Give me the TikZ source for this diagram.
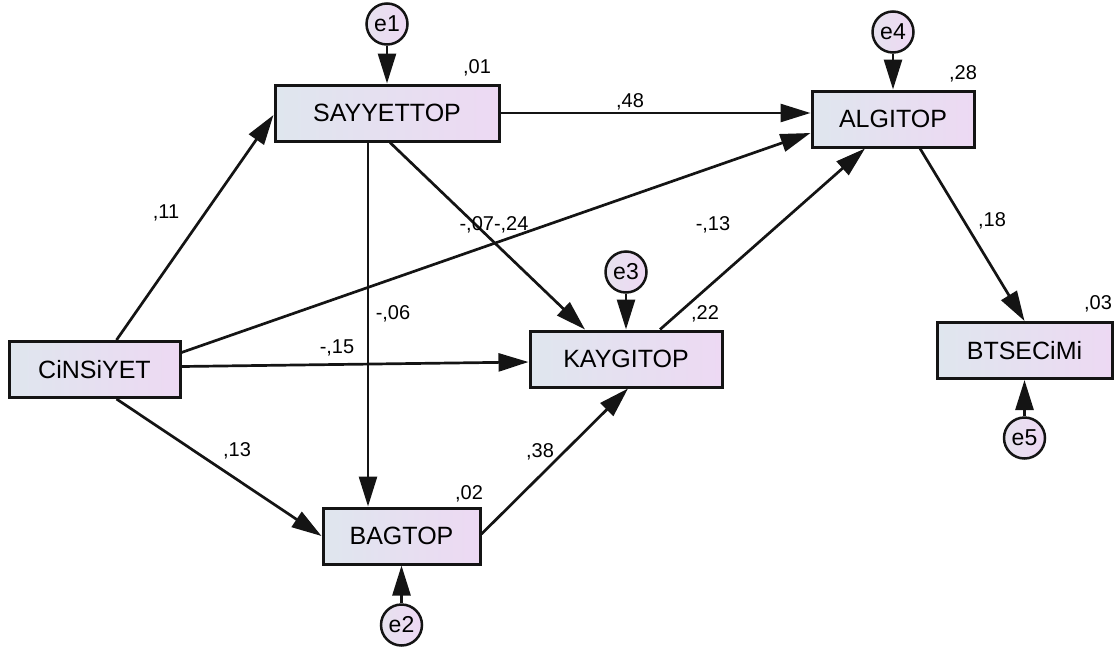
\documentclass[tikz,border=0pt]{standalone}
\usepackage{fontspec}
\setmainfont{Liberation Sans}
\usetikzlibrary{arrows.meta,calc}
\definecolor{boxL}{HTML}{DFE6EE}
\definecolor{boxR}{HTML}{EDD9F3}
\definecolor{circL}{HTML}{E6E2EE}
\definecolor{circR}{HTML}{EED8F4}
\definecolor{ink}{HTML}{141414}
\begin{document}
\begin{tikzpicture}[x=1pt,y=-1pt,
  var/.style={draw=ink, line width=3pt, left color=boxL, right color=boxR,
    minimum height=56pt, inner sep=0pt, font=\fontsize{25}{25}\selectfont},
  err/.style={circle, draw=ink, line width=2.5pt, left color=circL, right color=circR,
    minimum size=41pt, inner sep=0pt, font=\fontsize{23}{23}\selectfont},
  arr/.style={draw=ink, line width=2.7pt, -{Triangle[length=30pt,width=18pt]}},
  lab/.style={font=\fontsize{20}{20}\selectfont, inner sep=0pt}]
\path[use as bounding box] (0,0) rectangle (1118,653);

% observed variables
\node[var, minimum width=224pt] (say) at (387,113) {SAYYETTOP};
\node[var, minimum width=162pt] (alg) at (893,119) {ALGITOP};
\node[var, minimum width=171pt] (cin) at (94.5,369.5) {CiNSiYET};
\node[var, minimum width=192pt] (kay) at (626,359) {KAYGITOP};
\node[var, minimum width=175pt] (bts) at (1024.5,350.5) {BTSECiMi};
\node[var, minimum width=157pt] (bag) at (401.5,536) {BAGTOP};

% error terms
\node[err] (e1) at (387,24) {e1};
\node[err] (e4) at (893,32) {e4};
\node[err] (e3) at (626,272) {e3};
\node[err] (e2) at (401.5,625) {e2};
\node[err] (e5) at (1024.5,438) {e5};

% structural paths
\draw[arr] ($(cin.north)+(22,0)$) -- ($(say.west)+(0,2)$);
\draw[arr] ($(cin.east)+(0,-17)$) -- ($(alg.west)+(0,14)$);
\draw[arr] ($(cin.east)+(0,-3)$) -- ($(kay.west)+(0,3)$);
\draw[arr] ($(cin.south)+(22,0)$) -- (bag.west);
\draw[arr] (say.east) -- ($(alg.west)+(0,-6)$);
\draw[arr] ($(say.south)+(-19,0)$) -- ($(bag.north)+(-33.5,0)$);
\draw[arr] ($(say.south)+(3,0)$) -- ($(kay.north)+(-41,0)$);
\draw[arr] ($(kay.north)+(34,0)$) -- ($(alg.south)+(-28,0)$);
\draw[arr] ($(bag.east)+(0,-2)$) -- ($(kay.south)+(2,0)$);
\draw[arr] ($(alg.south)+(27,0)$) -- (bts.north);

% error paths
\draw[arr] (e1) -- (say.north);
\draw[arr] (e4) -- (alg.north);
\draw[arr] (e3) -- (kay.north);
\draw[arr] (e2) -- (bag.south);
\draw[arr] (e5) -- (bts.south);

% squared multiple correlations
\node[lab] (r1) at (477,68) {,01};
\node[lab] (r4) at (963,74) {,28};
\node[lab] (r3) at (705,314) {,22};
\node[lab] (r5) at (1098,304) {,03};
\node[lab] (r2) at (469,494) {,02};

% path coefficients
\node[lab] (c1) at (630,102) {,48};
\node[lab] (c2) at (166,213) {,11};
\node[lab] (c3) at (494,225) {-,07-,24};
\node[lab] (c4) at (713,225) {-,13};
\node[lab] (c5) at (992,221) {,18};
\node[lab] (c6) at (393,314) {-,06};
\node[lab] (c7) at (337,348) {-,15};
\node[lab] (c8) at (237,451) {,13};
\node[lab] (c9) at (540,452) {,38};
\end{tikzpicture}
\end{document}
